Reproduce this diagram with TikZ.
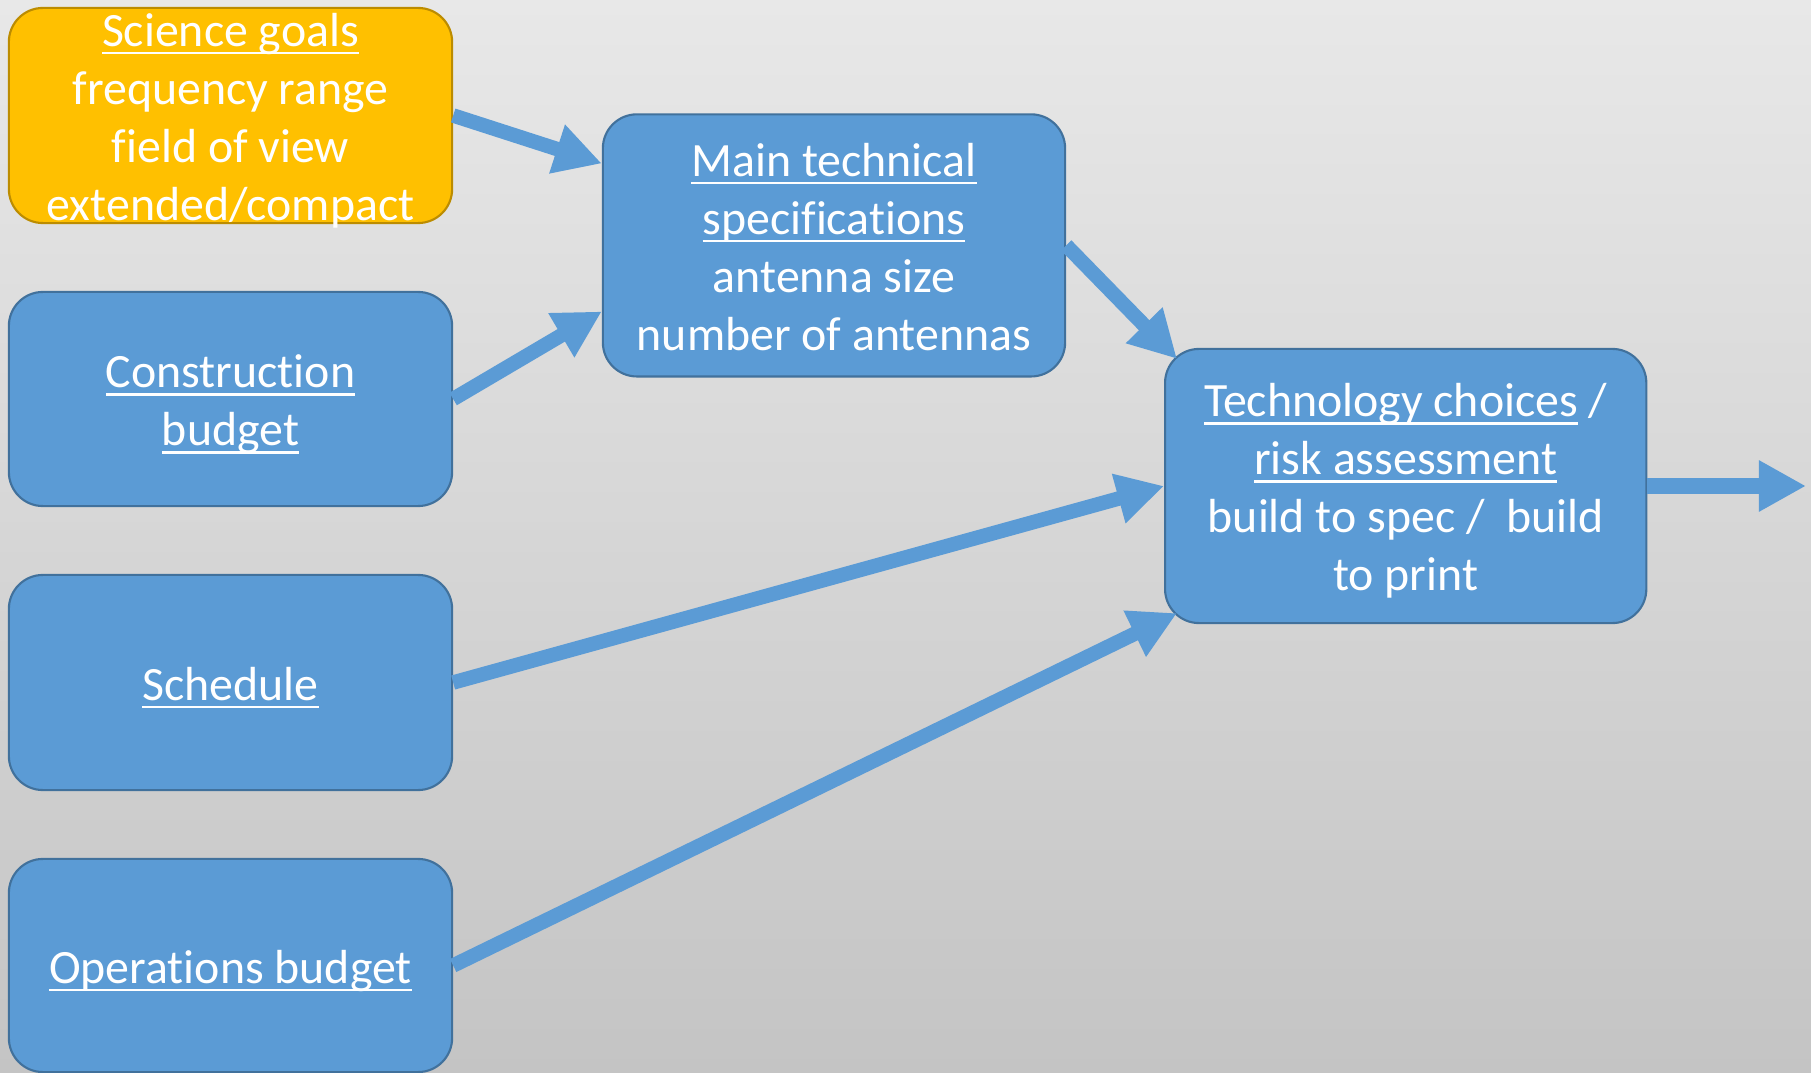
\documentclass[tikz,border=0pt]{standalone}
\usepackage{fontspec}
\setmainfont{Carlito}[Ligatures=NoCommon]
\usetikzlibrary{arrows.meta,calc}

% simple underline drawn as a rule below the text
\newsavebox{\ulbox}
\newcommand{\ulnt}[1]{\sbox{\ulbox}{#1}\rlap{\rule[-2.3pt]{\wd\ulbox}{0.75pt}}\usebox{\ulbox}}
% centred block of lines on a fixed line pitch, nudged slightly down;
% its extents are trimmed evenly so that long text may run past the box edge
\newcommand{\cardtext}[1]{\raisebox{-1.75pt}[\dimexpr\height-4pt\relax][\dimexpr\depth-4pt\relax]{\begin{tabular}{@{}c@{}}#1\end{tabular}}}

\definecolor{boxblue}{RGB}{91,155,213}
\definecolor{boxblueline}{RGB}{65,113,156}
\definecolor{boxgold}{RGB}{255,192,0}
\definecolor{boxgoldline}{RGB}{188,140,0}
\definecolor{bgtop}{RGB}{232,232,232}
\definecolor{bgbottom}{RGB}{196,196,196}

\tikzset{
  card/.style={draw=boxblueline, fill=boxblue, line width=0.6pt,
    rounded corners=0.34cm, text=white, inner sep=0pt,
    font=\fontsize{13.6}{16.5}\selectfont},
  goldcard/.style={card, draw=boxgoldline, fill=boxgold},
  flow/.style={draw=boxblue, line width=0.145cm,
    -{Triangle[length=0.47cm,width=0.48cm]}}
}

\begin{document}
\begin{tikzpicture}[x=0.01cm, y=-0.01cm]
  % backdrop with a soft vertical gradient
  \shade[top color=bgtop, bottom color=bgbottom] (0,0) rectangle (1811,1073);
  \useasboundingbox (0,0) rectangle (1811,1073);

  % input boxes, left column
  \node[goldcard, minimum width=4.43cm, minimum height=2.15cm] (sci) at (230.5,115.5)
    {\cardtext{\ulnt{Science goals}\\ frequency range\\ field of view\\ extended/compact}};
  \node[card, minimum width=4.43cm, minimum height=2.14cm] (cons) at (230.5,399)
    {\cardtext{\ulnt{Construction}\\ \ulnt{budget}}};
  \node[card, minimum width=4.43cm, minimum height=2.15cm] (sched) at (230.5,682.5)
    {\cardtext{\ulnt{Schedule}}};
  \node[card, minimum width=4.43cm, minimum height=2.13cm] (ops) at (230.5,965.5)
    {\cardtext{\ulnt{Operations budget}}};

  % intermediate and final stages
  \node[card, minimum width=4.62cm, minimum height=2.62cm] (main) at (834,245.4)
    {\cardtext{\ulnt{Main technical}\\ \ulnt{specifications}\\ antenna size\\ number of antennas}};
  \node[card, minimum width=4.81cm, minimum height=2.74cm] (tech) at (1405.7,486)
    {\cardtext{\ulnt{Technology choices} /\\ \ulnt{risk assessment}\\ build to spec /\ \ build\\ to print}};

  \coordinate (out) at (1806,485);

  % connectors
  \draw[flow] (sci.east) -- ($(main.north west)!0.19!(main.south west)$);
  \draw[flow] (cons.east) -- ($(main.north west)!0.75!(main.south west)$);
  \draw[flow] (main.east) -- ($(tech.north west)+(13,11)$);
  \draw[flow] (sched.east) -- (tech.west);
  \draw[flow] (ops.east) -- ($(tech.south west)+(13,-11)$);
  \draw[flow, line width=0.153cm] (tech.east) -- (tech.east -| out);
\end{tikzpicture}
\end{document}
